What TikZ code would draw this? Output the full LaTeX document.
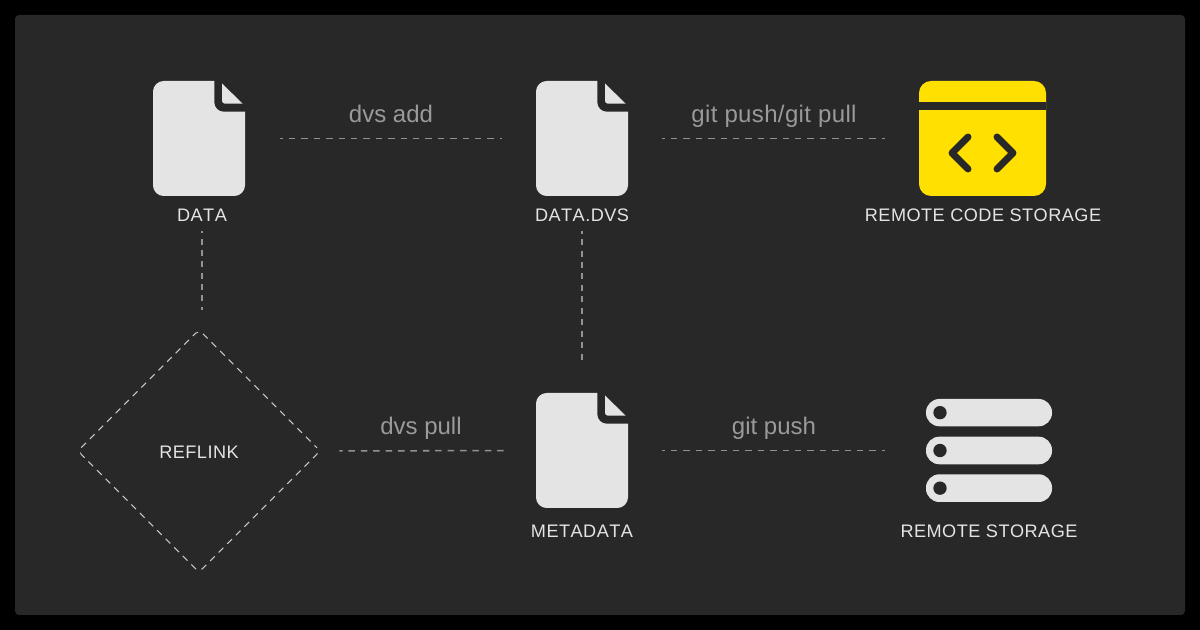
\documentclass[tikz,border=0pt]{standalone}
\usepackage{fontspec}
\setmainfont{Liberation Sans}
\newfontfamily\titlefont[Kerning=Off,LetterSpace=2.6]{Liberation Sans}
\newfontfamily\gitfont[LetterSpace=1.5]{Liberation Sans}
\usetikzlibrary{shapes.geometric}
\definecolor{panelbg}{HTML}{282828}
\definecolor{iconfill}{HTML}{E4E4E4}
\definecolor{codeyellow}{HTML}{FFE000}
\definecolor{cmdgray}{HTML}{9A9A9A}
\definecolor{dashgray}{HTML}{929292}
\tikzset{
  iconbox/.style={inner sep=0pt,outer sep=0pt,minimum width=#1},
  titlelabel/.style={text=iconfill,font=\titlefont\fontsize{13.6}{16}\selectfont,inner sep=0pt,anchor=base},
  cmdlabel/.style={text=cmdgray,font=\fontsize{18}{21}\selectfont,inner sep=0pt,anchor=base},
  conn/.style={draw=dashgray,line width=1.15pt,dash pattern=on 4.9pt off 4.4pt,dash phase=2.6pt},
  connv/.style={draw=dashgray,line width=1.15pt,dash pattern=on 4.5pt off 4pt,dash phase=2.5pt},
}
\newcommand{\fileicon}[3]{%
  \node[iconbox=69pt,minimum height=86.25pt] (#1) at (#2+46,#3+57.5) {};
  \begin{scope}[shift={(#2,#3)}]
    \fill[iconfill] (92,30.7) [rounded corners=7pt] -- (61.3,30.7) [sharp corners] -- (61.3,0) [rounded corners=8pt] -- (0,0) -- (0,115) -- (92,115) [sharp corners] -- cycle;
    \fill[iconfill] (89.7,22.7) [rounded corners=2.2pt] -- (69,22.7) [sharp corners] -- (69,2.5) -- cycle;
  \end{scope}
}
\begin{document}
\begin{tikzpicture}[x=0.75pt,y=-0.75pt]
\useasboundingbox (0,0) rectangle (1200,630);
\fill[black] (0,0) rectangle (1200,630);
\fill[panelbg,rounded corners=3pt] (15,15) rectangle (1185,615);

% file icons
\fileicon{dataicon}{153}{81}
\fileicon{dvsicon}{536}{81}
\fileicon{metaicon}{536}{393}

% code storage icon
\node[iconbox=95.25pt,minimum height=86.25pt] (codeicon) at (982.5,138.5) {};
\fill[codeyellow,rounded corners=9pt] (919,81) rectangle (1046,196);
\fill[panelbg] (919,102) rectangle (1046,110.5);
\draw[panelbg,line width=5.2pt,line cap=round,line join=round] (968,137) -- (952,153) -- (968,169);
\draw[panelbg,line width=5.2pt,line cap=round,line join=round] (997,137) -- (1013,153) -- (997,169);

% server icon
\node[iconbox=94.5pt,minimum height=77pt] (servericon) at (989,450.5) {};
\foreach \ya/\yb in {399/426.3,436.7/464.3,474.3/502}{
  \fill[iconfill,rounded corners=10pt] (926,\ya) rectangle (1052,\yb);
  \fill[panelbg] (940,{(\ya+\yb)/2}) circle[radius=5pt];
}

% reflink
\node[diamond,draw=iconfill!85!panelbg,line width=0.7pt,dash pattern=on 5pt off 4.1pt,dash phase=2.5pt,rounded corners=3.5pt,inner sep=0pt,aspect=1,
  minimum width=182pt,minimum height=182pt] (reflink) at (199,451) {};
\node[titlelabel] (reflabel) at (199,459) {REFLINK};

% titles
\node[titlelabel] (datalabel) at (202,221.5) {DATA};
\node[titlelabel] (dvslabel) at (582,221.5) {DATA.DVS};
\node[titlelabel] (codelabel) at (983,221.5) {REMOTE CODE STORAGE};
\node[titlelabel] (metalabel) at (582,537.5) {METADATA};
\node[titlelabel] (serverlabel) at (989,537.5) {REMOTE STORAGE};

% commands
\node[cmdlabel] (addcmd) at (391,123) {dvs add};
\node[cmdlabel,font=\gitfont\fontsize{18}{21}\selectfont] (gitcmd) at (774,123) {git push/git pull};
\node[cmdlabel] (pullcmd) at (421,435) {dvs pull};
\node[cmdlabel] (pushcmd) at (774,435) {git push};

% connectors
\draw[conn,shorten >=25.5pt,shorten <=26.25pt] (dataicon.east) -- (dvsicon.west);
\draw[conn,shorten >=25.5pt,shorten <=25.5pt] (dvsicon.east) -- (codeicon.west);
\draw[conn,shorten >=24pt,shorten <=14pt] (reflink.east) -- (metaicon.west);
\draw[conn,shorten >=30.75pt,shorten <=25.5pt] (metaicon.east) -- (servericon.west);
\draw[connv,shorten >=14.5pt,shorten <=6.75pt] (datalabel.south) -- (datalabel.south |- reflink.north);
\draw[connv,dash pattern=on 4.5pt off 4.1pt,shorten >=24.75pt,shorten <=6.75pt] (dvslabel.south) -- (metaicon.north);
\end{tikzpicture}
\end{document}
